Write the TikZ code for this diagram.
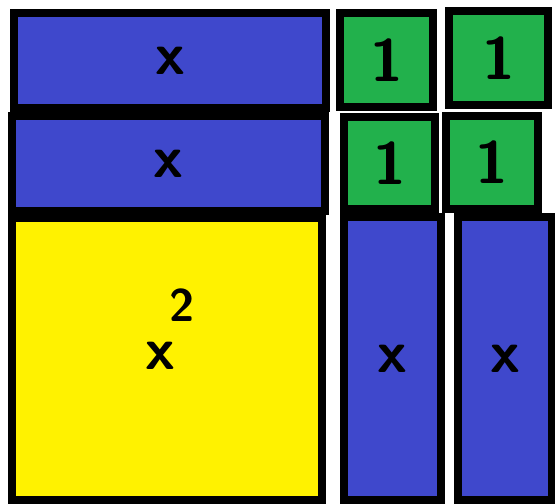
\documentclass[tikz,border=0pt]{standalone}
\usepackage{tikz}
\usetikzlibrary{positioning}

\definecolor{blupaint}{RGB}{63,72,204}
\definecolor{verdepaint}{RGB}{34,177,76}
\definecolor{giallopaint}{RGB}{255,242,0}

\begin{document}
\begin{tikzpicture}[
                x=0.02cm, y=-0.02cm,
                % Stile comune a tutti i blocchi, bordo nero spesso
                blocco/.style={
                    draw=black,
                    rectangle,
                    line width=0.16cm,
                    inner sep=0pt,
                    font=\sffamily\bfseries\fontsize{34}{34}\selectfont
                },
                % Varianti di colore
                lungo/.style={blocco, fill=blupaint, minimum width=6.24cm, minimum height=1.9cm},
                unita/.style={blocco, fill=verdepaint},
                quadrato/.style={blocco, fill=giallopaint, minimum width=6.2cm, minimum height=5.64cm},
                alto/.style={blocco, fill=blupaint, minimum height=5.66cm}
            ]

                % 0. Margini del disegno
                \useasboundingbox (0,0) rectangle (555,504);

                % 1. Le due barre lunghe a sinistra
                \node [lungo] (barraA) at (170,60.5) {x};
                \node [lungo, minimum width=6.26cm] (barraB) at (168.5,163.5) {x};

                % 2. Il quadrato giallo x^2 (esponente alto, senza spostare la x)
                \node [quadrato] (quadrato) at (167,359)
                    {\kern-4pt\smash{\raisebox{-0.17em}{x}}\rlap{\kern-3pt\smash{\raisebox{0.63em}{\fontsize{26}{26}\selectfont 2}}}\kern4pt};

                % 3. I quattro quadratini verdi
                \node [unita, minimum width=1.86cm, minimum height=1.88cm] (unoA) at (386.5,60) {1};
                \node [unita, minimum width=1.98cm, minimum height=1.88cm] (unoB) at (498.5,58) {1};
                \node [unita, minimum width=1.82cm, minimum height=1.84cm] (unoC) at (389.5,163) {1};
                \node [unita, minimum width=1.84cm, minimum height=1.86cm] (unoD) at (492,162.5) {1};

                % 4. Le due barre verticali a destra
                \node [alto, minimum width=1.94cm] (colonnaA) at (392.5,358.5) {x};
                \node [alto, minimum width=1.88cm] (colonnaB) at (505,358.5) {x};

            \end{tikzpicture}
\end{document}
